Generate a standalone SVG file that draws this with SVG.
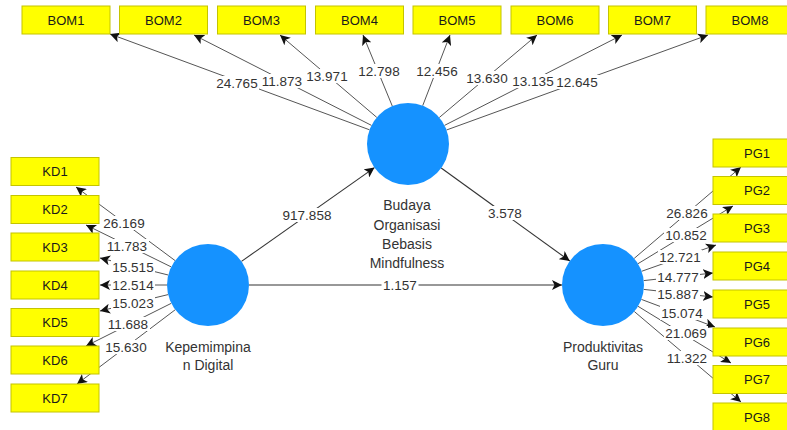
<svg xmlns="http://www.w3.org/2000/svg" width="787" height="430" viewBox="0 0 787 430">
<defs>
<marker id="ah" markerUnits="userSpaceOnUse" markerWidth="12" markerHeight="10" refX="10" refY="5" orient="auto">
<path d="M0,0 L10,5 L0,10 L2.5,5 Z" fill="#111"/>
</marker>
<style>
.bg{fill:#fff}
.box{fill:#ffff00;stroke:#c4c400;stroke-width:1}
.bt{font-family:"Liberation Sans",Arial,sans-serif;font-size:13px;fill:#1a1a1a;text-anchor:middle}
.lv{fill:#1592ff}
.nl{font-family:"Liberation Sans",Arial,sans-serif;font-size:14px;fill:#333;text-anchor:middle}
.ln{stroke:#555;stroke-width:1;fill:none;marker-end:url(#ah)}
.sl{stroke:#333;stroke-width:1.1;fill:none;marker-end:url(#ah)}
.lr{fill:#fff}
.lb{font-family:"Liberation Sans",Arial,sans-serif;font-size:13.5px;fill:#333;text-anchor:middle}
</style>
</defs>
<rect class="bg" x="0" y="0" width="787" height="430"/>
<g id="connectors">
<line class="ln" x1="369.5" y1="129.8" x2="110" y2="34"/>
<line class="ln" x1="371.5" y1="125.4" x2="194" y2="35"/>
<line class="ln" x1="376.8" y1="117.4" x2="280" y2="35"/>
<line class="ln" x1="392.3" y1="106.1" x2="363" y2="35"/>
<line class="ln" x1="422.7" y1="105.7" x2="450" y2="35"/>
<line class="ln" x1="439.3" y1="117.5" x2="537" y2="35"/>
<line class="ln" x1="444.5" y1="125.4" x2="622" y2="35"/>
<line class="ln" x1="446.5" y1="130" x2="708" y2="35"/>
<line class="ln" x1="175.1" y1="260.6" x2="76" y2="187"/>
<line class="ln" x1="171.2" y1="266.9" x2="86" y2="225"/>
<line class="ln" x1="168.2" y1="275" x2="100" y2="258"/>
<line class="ln" x1="167" y1="285" x2="100" y2="285"/>
<line class="ln" x1="168.1" y1="294.6" x2="100" y2="311"/>
<line class="ln" x1="171.3" y1="303.3" x2="86" y2="346"/>
<line class="ln" x1="175.3" y1="309.7" x2="77" y2="384"/>
<line class="ln" x1="634.2" y1="258.4" x2="741" y2="167"/>
<line class="ln" x1="638" y1="263.7" x2="733" y2="206"/>
<line class="ln" x1="641.6" y1="271.3" x2="716" y2="245"/>
<line class="ln" x1="643.7" y1="280.6" x2="713" y2="273"/>
<line class="ln" x1="643.7" y1="289.4" x2="713" y2="297"/>
<line class="ln" x1="641.4" y1="299.4" x2="715" y2="327"/>
<line class="ln" x1="638" y1="306.3" x2="731" y2="363"/>
<line class="ln" x1="634.3" y1="311.5" x2="741" y2="402"/>
<line class="sl" x1="241.5" y1="261.4" x2="374.5" y2="167.6"/>
<line class="sl" x1="441.2" y1="168" x2="569.8" y2="261"/>
<line class="sl" x1="249" y1="285" x2="562" y2="285"/>
<rect class="lr" x="215" y="76" width="44" height="14"/><text class="lb" x="237" y="87.5">24.765</text>
<rect class="lr" x="260" y="74" width="44" height="14"/><text class="lb" x="282" y="85.5">11.873</text>
<rect class="lr" x="305" y="69" width="44" height="14"/><text class="lb" x="327" y="80.5">13.971</text>
<rect class="lr" x="357" y="64" width="44" height="14"/><text class="lb" x="379" y="75.5">12.798</text>
<rect class="lr" x="415" y="64" width="44" height="14"/><text class="lb" x="437" y="75.5">12.456</text>
<rect class="lr" x="465" y="71" width="44" height="14"/><text class="lb" x="487" y="82.5">13.630</text>
<rect class="lr" x="511" y="74" width="44" height="14"/><text class="lb" x="533" y="85.5">13.135</text>
<rect class="lr" x="555" y="75" width="44" height="14"/><text class="lb" x="577" y="86.5">12.645</text>
<rect class="lr" x="102" y="216" width="44" height="14"/><text class="lb" x="124" y="227.5">26.169</text>
<rect class="lr" x="105" y="239" width="44" height="14"/><text class="lb" x="127" y="250.5">11.783</text>
<rect class="lr" x="111" y="260" width="44" height="14"/><text class="lb" x="133" y="271.5">15.515</text>
<rect class="lr" x="111" y="278" width="44" height="14"/><text class="lb" x="133" y="289.5">12.514</text>
<rect class="lr" x="111" y="296" width="44" height="14"/><text class="lb" x="133" y="307.5">15.023</text>
<rect class="lr" x="106" y="317" width="44" height="14"/><text class="lb" x="128" y="328.5">11.688</text>
<rect class="lr" x="104" y="340" width="44" height="14"/><text class="lb" x="126" y="351.5">15.630</text>
<rect class="lr" x="665" y="206" width="44" height="14"/><text class="lb" x="687" y="217.5">26.826</text>
<rect class="lr" x="664" y="228" width="44" height="14"/><text class="lb" x="686" y="239.5">10.852</text>
<rect class="lr" x="658" y="250" width="44" height="14"/><text class="lb" x="680" y="261.5">12.721</text>
<rect class="lr" x="656" y="270" width="44" height="14"/><text class="lb" x="678" y="281.5">14.777</text>
<rect class="lr" x="656" y="287" width="44" height="14"/><text class="lb" x="678" y="298.5">15.887</text>
<rect class="lr" x="660" y="306" width="44" height="14"/><text class="lb" x="682" y="317.5">15.074</text>
<rect class="lr" x="664" y="326" width="44" height="14"/><text class="lb" x="686" y="337.5">21.069</text>
<rect class="lr" x="665" y="351" width="44" height="14"/><text class="lb" x="687" y="362.5">11.322</text>
<rect class="lr" x="281" y="208" width="52" height="14"/><text class="lb" x="307" y="219.5">917.858</text>
<rect class="lr" x="486.5" y="206" width="37" height="14"/><text class="lb" x="505" y="217.5">3.578</text>
<rect class="lr" x="381.5" y="278" width="37" height="14"/><text class="lb" x="400" y="289.5">1.157</text>
</g>
<g id="BOM1"><rect class="box" x="22" y="6" width="88" height="28"/><text class="bt" x="66" y="24.5">BOM1</text></g>
<g id="BOM2"><rect class="box" x="119.5" y="6" width="88" height="28"/><text class="bt" x="163.5" y="24.5">BOM2</text></g>
<g id="BOM3"><rect class="box" x="217.5" y="6" width="88" height="28"/><text class="bt" x="261.5" y="24.5">BOM3</text></g>
<g id="BOM4"><rect class="box" x="315.5" y="6" width="88" height="28"/><text class="bt" x="359.5" y="24.5">BOM4</text></g>
<g id="BOM5"><rect class="box" x="413" y="6" width="88" height="28"/><text class="bt" x="457" y="24.5">BOM5</text></g>
<g id="BOM6"><rect class="box" x="511" y="6" width="88" height="28"/><text class="bt" x="555" y="24.5">BOM6</text></g>
<g id="BOM7"><rect class="box" x="608.5" y="6" width="88" height="28"/><text class="bt" x="652.5" y="24.5">BOM7</text></g>
<g id="BOM8"><rect class="box" x="706" y="6" width="88" height="28"/><text class="bt" x="750" y="24.5">BOM8</text></g>
<g id="KD1"><rect class="box" x="11" y="157.5" width="88" height="28"/><text class="bt" x="55" y="176">KD1</text></g>
<g id="KD2"><rect class="box" x="11" y="195.5" width="88" height="28"/><text class="bt" x="55" y="214">KD2</text></g>
<g id="KD3"><rect class="box" x="11" y="233" width="88" height="28"/><text class="bt" x="55" y="251.5">KD3</text></g>
<g id="KD4"><rect class="box" x="11" y="271" width="88" height="28"/><text class="bt" x="55" y="289.5">KD4</text></g>
<g id="KD5"><rect class="box" x="11" y="308.5" width="88" height="28"/><text class="bt" x="55" y="327">KD5</text></g>
<g id="KD6"><rect class="box" x="11" y="346" width="88" height="28"/><text class="bt" x="55" y="364.5">KD6</text></g>
<g id="KD7"><rect class="box" x="11" y="384" width="88" height="28"/><text class="bt" x="55" y="402.5">KD7</text></g>
<g id="PG1"><rect class="box" x="713" y="139" width="88" height="28"/><text class="bt" x="757" y="157.5">PG1</text></g>
<g id="PG2"><rect class="box" x="713" y="176.5" width="88" height="28"/><text class="bt" x="757" y="195">PG2</text></g>
<g id="PG3"><rect class="box" x="713" y="214" width="88" height="28"/><text class="bt" x="757" y="232.5">PG3</text></g>
<g id="PG4"><rect class="box" x="713" y="252" width="88" height="28"/><text class="bt" x="757" y="270.5">PG4</text></g>
<g id="PG5"><rect class="box" x="713" y="290" width="88" height="28"/><text class="bt" x="757" y="308.5">PG5</text></g>
<g id="PG6"><rect class="box" x="713" y="328" width="88" height="28"/><text class="bt" x="757" y="346.5">PG6</text></g>
<g id="PG7"><rect class="box" x="713" y="365.5" width="88" height="28"/><text class="bt" x="757" y="384">PG7</text></g>
<g id="PG8"><rect class="box" x="713" y="403" width="88" height="28"/><text class="bt" x="757" y="421.5">PG8</text></g>
<g id="KepemimpinanDigital"><circle class="lv" cx="208" cy="285" r="41"/><text class="nl" x="208" y="352">Kepemimpina</text><text class="nl" x="208" y="370">n Digital</text></g>
<g id="BudayaOrganisasi"><circle class="lv" cx="408" cy="144" r="41"/><text class="nl" x="407" y="210">Budaya</text><text class="nl" x="407" y="230">Organisasi</text><text class="nl" x="407" y="249">Bebasis</text><text class="nl" x="407" y="268">Mindfulness</text></g>
<g id="ProduktivitasGuru"><circle class="lv" cx="603" cy="285" r="41"/><text class="nl" x="603" y="352">Produktivitas</text><text class="nl" x="603" y="370">Guru</text></g>
</svg>
